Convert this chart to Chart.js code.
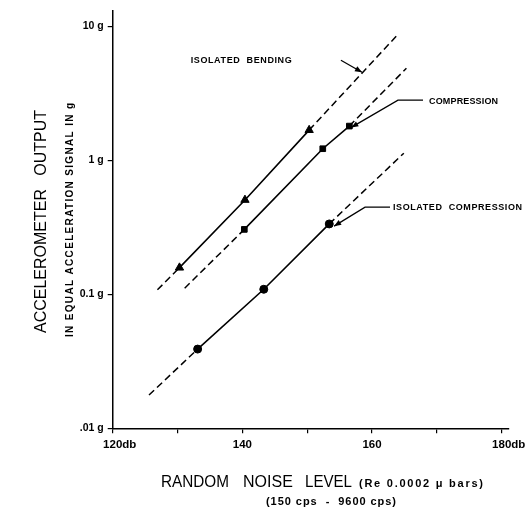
<!DOCTYPE html>
<html>
<head>
<meta charset="utf-8">
<script src="https://cdn.jsdelivr.net/npm/chart.js@4"></script>
<style>
  html, body { margin: 0; padding: 0; background: #fff; }
  #c { display: block; }
</style>
</head>
<body>
<canvas id="c" width="530" height="513"></canvas>
<script>
// ---- data ----
const bendDb = [130.3, 140.4, 150.3];
const bendG  = [0.158, 0.506, 1.68];
const bendExtDb = [126.9, 163.8];
const bendExtG  = [0.108, 8.5];

const compDb = [140.3, 152.4, 156.5];
const compG  = [0.305, 1.22, 1.80];
const compExtDb = [131.1, 165.3];
const compExtG  = [0.111, 4.86];

const isoDb = [133.1, 143.3, 153.4];
const isoG  = [0.039, 0.109, 0.335];
const isoExtDb = [125.6, 164.9];
const isoExtG  = [0.0177, 1.13];

const xTickVals = [120, 130, 140, 150, 160, 170, 180];
const xTickLabels = ['120', '', '140', '', '160', '', '180'];
const xTickSuffix = ['db', '', '', '', '', '', 'db'];
const yTickVals = [0.01, 0.1, 1, 10];
const yTickLabels = ['.01 g', '0.1 g', '1 g', '10 g'];

// annotation anchors (data units)
const bendLabel = { text: 'ISOLATED  BENDING', db: 132.03, g: 5.58 };
const bendLeader = [[155.2, 5.58], [158.45, 4.54]];
const compLabel = { text: 'COMPRESSION', db: 168.79, g: 2.76 };
const compLeader = [[167.86, 2.81], [164.0, 2.81], [156.8, 1.76]];
const isoLabel = { text: 'ISOLATED  COMPRESSION', db: 163.23, g: 0.447 };
const isoLeader = [[162.77, 0.447], [158.92, 0.447], [154.15, 0.3225]];

const pts = (xs, ys) => xs.map((x, i) => ({ x: x, y: ys[i] }));

function seriesSets(xs, ys, ext, extY, style) {
  const solid = {
    data: pts(xs, ys), showLine: true, borderColor: '#000', borderWidth: 1.6,
    pointStyle: style, pointRadius: style === 'triangle' ? 4.8 : 4,
    pointBackgroundColor: '#000', pointBorderColor: '#000', pointBorderWidth: 1
  };
  const low = {
    data: pts([ext[0], xs[0]], [extY[0], ys[0]]), showLine: true, borderColor: '#000',
    borderWidth: 1.5, borderDash: [7, 4], pointRadius: 0
  };
  const high = {
    data: pts([xs[xs.length - 1], ext[1]], [ys[ys.length - 1], extY[1]]), showLine: true,
    borderColor: '#000', borderWidth: 1.5, borderDash: [7, 4], pointRadius: 0
  };
  return [low, high, solid];
}

const FONT = "'Liberation Sans', Arial, sans-serif";

function fitText(ctx, text, x, y, width, font) {
  ctx.save();
  ctx.font = font;
  ctx.letterSpacing = '0px';
  const w = ctx.measureText(text).width;
  const n = [...text].length;
  ctx.textAlign = 'left';
  ctx.textBaseline = 'middle';
  ctx.fillStyle = '#000';
  let ls = (width - w) / Math.max(1, n - 1);
  if (ls < -0.3) {
    ctx.translate(x, y);
    ctx.scale(width / w, 1);
    ctx.fillText(text, 0, 0);
  } else {
    ctx.letterSpacing = ls + 'px';
    ctx.fillText(text, x, y);
  }
  ctx.restore();
}

function arrowHead(ctx, x0, y0, x1, y1) {
  const a = Math.atan2(y1 - y0, x1 - x0);
  const L = 7, H = 2.8;
  ctx.beginPath();
  ctx.moveTo(x1, y1);
  ctx.lineTo(x1 - L * Math.cos(a) + H * Math.sin(a), y1 - L * Math.sin(a) - H * Math.cos(a));
  ctx.lineTo(x1 - L * Math.cos(a) - H * Math.sin(a), y1 - L * Math.sin(a) + H * Math.cos(a));
  ctx.closePath();
  ctx.fill();
}

const annot = {
  id: 'annot',
  afterDraw(chart) {
    const ctx = chart.ctx;
    const xs = chart.scales.x, ys = chart.scales.y;
    const P = (d, g) => [xs.getPixelForValue(d), ys.getPixelForValue(g)];
    ctx.save();
    ctx.strokeStyle = '#000';
    ctx.fillStyle = '#000';
    ctx.lineWidth = 1.3;

    // leaders
    [bendLeader, compLeader, isoLeader].forEach((ld) => {
      const p = ld.map(q => P(q[0], q[1]));
      ctx.beginPath();
      ctx.moveTo(p[0][0], p[0][1]);
      for (let i = 1; i < p.length; i++) ctx.lineTo(p[i][0], p[i][1]);
      ctx.stroke();
      const a = p[p.length - 2], b = p[p.length - 1];
      arrowHead(ctx, a[0], a[1], b[0], b[1]);
    });

    // annotation labels
    const lab = (L, w) => { const p = P(L.db, L.g); fitText(ctx, L.text, p[0], p[1], w, 'bold 9px ' + FONT); };
    lab(bendLabel, 101);
    lab(compLabel, 69);
    lab(isoLabel, 129);

    // x tick labels
    ctx.font = 'bold 11.5px ' + FONT;
    ctx.textBaseline = 'middle';
    ctx.textAlign = 'left';
    xTickVals.forEach((v, i) => {
      if (!xTickLabels[i]) return;
      const nw = ctx.measureText(xTickLabels[i]).width;
      const px = xs.getPixelForValue(v);
      ctx.fillText(xTickLabels[i] + xTickSuffix[i], px - nw / 2, 445);
    });

    // axis titles
    fitText(ctx, 'RANDOM', 161, 483, 68, '16px ' + FONT);
    fitText(ctx, 'NOISE', 243, 483, 50, '16px ' + FONT);
    fitText(ctx, 'LEVEL', 305, 483, 47, '16px ' + FONT);
    fitText(ctx, '(Re 0.0002 \u03bc bars)', 359, 484, 124, 'bold 11px ' + FONT);
    fitText(ctx, '(150 cps  -  9600 cps)', 266, 502, 130, 'bold 11px ' + FONT);

    ctx.save();
    ctx.translate(42, 333);
    ctx.rotate(-Math.PI / 2);
    fitText(ctx, 'ACCELEROMETER   OUTPUT', 0, 0, 223, '16px ' + FONT);
    ctx.restore();
    ctx.save();
    ctx.translate(70, 337);
    ctx.rotate(-Math.PI / 2);
    fitText(ctx, 'IN EQUAL ACCELERATION SIGNAL IN g', 0, 0, 234, 'bold 10px ' + FONT);
    ctx.restore();

    ctx.restore();
  }
};

new Chart(document.getElementById('c'), {
  type: 'scatter',
  data: {
    datasets: [
      ...seriesSets(bendDb, bendG, bendExtDb, bendExtG, 'triangle'),
      ...seriesSets(compDb, compG, compExtDb, compExtG, 'rect'),
      ...seriesSets(isoDb, isoG, isoExtDb, isoExtG, 'circle')
    ]
  },
  options: {
    responsive: false,
    devicePixelRatio: 1,
    animation: false,
    layout: { padding: { left: 0, right: 21.8, top: 10, bottom: 0 } },
    plugins: { legend: { display: false }, tooltip: { enabled: false } },
    scales: {
      x: {
        type: 'linear', min: 120, max: 181,
        afterBuildTicks: s => { s.ticks = xTickVals.map(v => ({ value: v })); },
        afterFit: s => { s.height = 513 - 428.3; },
        ticks: { display: true, callback: () => '', font: { size: 1 } },
        grid: { drawOnChartArea: false, drawTicks: true, tickLength: 5, color: '#000', lineWidth: 1.2 },
        border: { display: true, color: '#000', width: 1.5 }
      },
      y: {
        type: 'logarithmic', min: 0.01, max: 13.16,
        afterBuildTicks: s => { s.ticks = yTickVals.map(v => ({ value: v })); },
        afterFit: s => { s.width = 112.7; },
        ticks: {
          callback: (v) => { const i = yTickVals.findIndex(t => Math.abs(t - v) < t * 1e-6); return i >= 0 ? yTickLabels[i] : ''; },
          color: '#000', font: { family: FONT, size: 10.5, weight: 'bold' }, padding: 4
        },
        grid: { drawOnChartArea: false, drawTicks: true, tickLength: 5, color: '#000', lineWidth: 1.2 },
        border: { display: true, color: '#000', width: 1.5 }
      }
    }
  },
  plugins: [annot]
});
</script>
</body>
</html>
